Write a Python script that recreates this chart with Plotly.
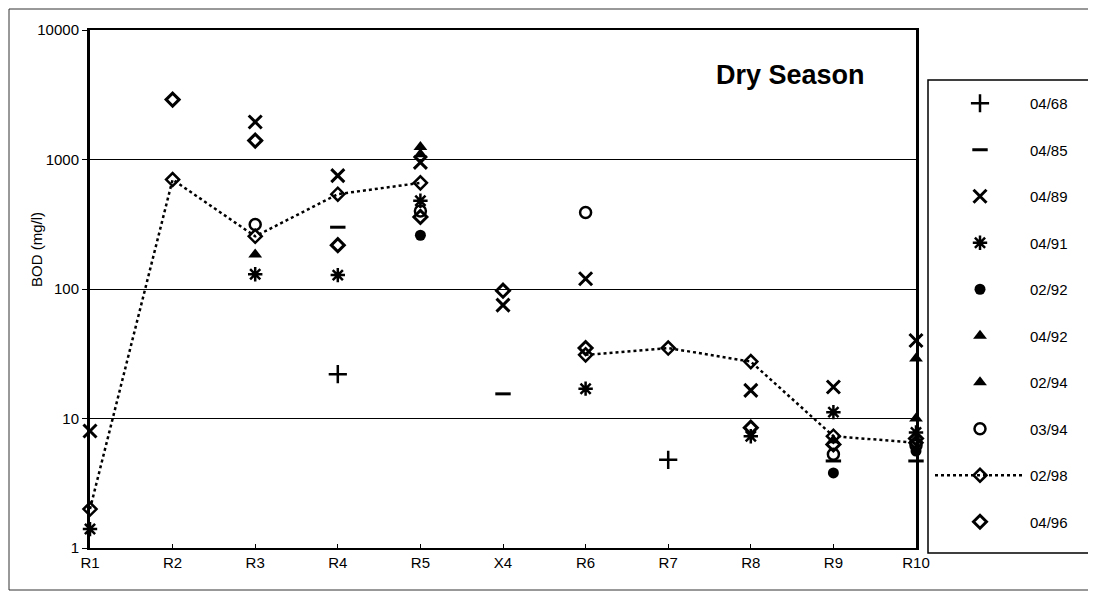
import plotly.graph_objects as go

categories = ["R1", "R2", "R3", "R4", "R5", "X4", "R6", "R7", "R8", "R9", "R10"]
y_ticks = [1, 10, 100, 1000, 10000]
y_tick_labels = ["1", "10", "100", "1000", "10000"]

s_0468 = [None, None, None, 22, None, None, None, 4.8, None, None, None]
s_0485 = [None, None, None, 300, None, 15.5, None, None, None, 4.7, 4.7]
s_0489 = [8, None, 1950, 750, 950, 75, 120, None, 16.5, 17.5, 40]
s_0491 = [1.4, None, 130, 128, 480, None, 17, None, 7.3, 11.2, 7.8]
s_0292 = [None, None, None, None, 260, None, None, None, None, 3.8, 5.6]
s_0492 = [None, None, 185, None, 1100, None, None, None, None, None, 29]
s_0294 = [None, None, None, None, 1250, None, None, None, None, 6.8, 10]
s_0394 = [None, None, 315, None, 400, None, 390, None, None, 5.3, 6.2]
s_0298 = [2.0, 700, 255, 540, 660, None, 31, 35, 27.5, 7.3, 6.5]
s_0496 = [None, 2900, 1400, 218, 360, 97, 35, None, 8.5, 6.3, 7.0]

xs = list(range(len(categories)))
FONT = "Arial, Liberation Sans, sans-serif"

# page offset of the figure inside the browser body
OX, OY = 8, 8
PL, PT, PW, PH = 90, 30, 826, 518  # plot area in page pixels


def px(x):
    return (x - PL) / PW


def py(y):
    return (PT + PH - y) / PH


series = [
    ("04/68", s_0468, dict(symbol="cross-thin", size=13, line=dict(width=2.5, color="black")), None),
    ("04/85", s_0485, dict(symbol="line-ew", size=11, line=dict(width=3, color="black")), None),
    ("04/89", s_0489, dict(symbol="x-thin", size=13, line=dict(width=3, color="black")), None),
    ("04/91", s_0491, dict(symbol="asterisk", size=12, line=dict(width=2.5, color="black")), None),
    ("02/92", s_0292, dict(symbol="circle", size=11, color="black"), None),
    ("04/92", s_0492, dict(symbol="triangle-up", size=12, color="black"), None),
    ("02/94", s_0294, dict(symbol="triangle-up", size=12, color="black"), None),
    ("03/94", s_0394, dict(symbol="circle-open", size=11, line=dict(width=2.5, color="black"), color="black"), None),
    ("02/98", s_0298, dict(symbol="diamond-open", size=10, line=dict(width=2.5, color="black"), color="black"),
     dict(color="black", width=2.5, dash="dot")),
    ("04/96", s_0496, dict(symbol="diamond-open", size=10, line=dict(width=3, color="black"), color="black"), None),
]

fig = go.Figure()
for name, vals, marker, line in series:
    fig.add_trace(go.Scatter(
        x=xs, y=vals, name=name,
        mode="lines+markers" if line else "markers",
        marker=marker,
        line=line if line else dict(color="black"),
        connectgaps=False,
        cliponaxis=False,
        legendgroup=name,
    ))

fig.update_layout(
    width=1096 - OX, height=596 - OY,
    margin=dict(l=PL - OX, r=1096 - PL - PW, t=PT - OY, b=596 - PT - PH),
    paper_bgcolor="white", plot_bgcolor="white",
    font=dict(family=FONT, color="black", size=15),
    showlegend=True,
    legend=dict(
        x=px(930), y=py(87), xanchor="left", yanchor="top",
        borderwidth=0, bgcolor="rgba(0,0,0,0)",
        font=dict(family=FONT, size=15, color="black"),
        tracegroupgap=24, traceorder="grouped",
        itemwidth=90,
    ),
    xaxis=dict(
        range=[0, 10], tickmode="array", tickvals=xs, ticktext=categories,
        showgrid=False, zeroline=False,
        showline=True, linecolor="black", linewidth=1.5, mirror=True,
        ticks="inside", ticklen=4, tickcolor="black",
        tickfont=dict(family=FONT, size=15, color="black"),
    ),
    yaxis=dict(
        type="log", range=[0, 4], tickmode="array", tickvals=y_ticks, ticktext=y_tick_labels,
        showgrid=True, gridcolor="black", gridwidth=1,
        showline=True, linecolor="black", linewidth=3, mirror=True,
        ticks="outside", ticklen=5, tickcolor="black",
        tickfont=dict(family=FONT, size=15, color="black"),
        zeroline=False,
    ),
    annotations=[
        dict(text="<b>Dry Season</b>", x=px(790), y=py(75), xref="paper", yref="paper",
             xanchor="center", yanchor="middle", showarrow=False,
             font=dict(family=FONT, size=27, color="black")),
        dict(text="BOD (mg/l)", textangle=-90, x=px(36), y=py(250), xref="paper", yref="paper",
             xanchor="center", yanchor="middle", showarrow=False,
             font=dict(family=FONT, size=15, color="black")),
    ],
    shapes=[
        dict(type="rect", xref="paper", yref="paper",
             x0=px(9), x1=px(1092), y0=py(590), y1=py(9),
             line=dict(color="#333", width=1)),
        dict(type="rect", xref="paper", yref="paper",
             x0=px(928), x1=px(1093), y0=py(553), y1=py(80),
             line=dict(color="black", width=1.5)),
    ],
)

fig.write_html("out.html")
